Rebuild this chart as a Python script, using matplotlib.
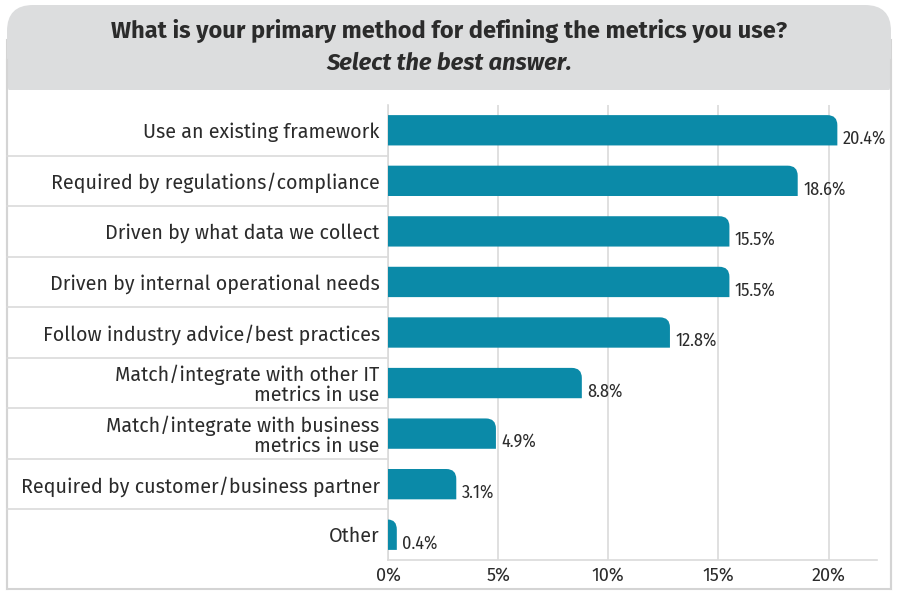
import numpy as np
import matplotlib
matplotlib.use("Agg")
import matplotlib.pyplot as plt
from matplotlib.path import Path
from matplotlib.patches import PathPatch, FancyBboxPatch, Rectangle
from matplotlib.transforms import blended_transform_factory

categories = [
    "Use an existing framework",
    "Required by regulations/compliance",
    "Driven by what data we collect",
    "Driven by internal operational needs",
    "Follow industry advice/best practices",
    "Match/integrate with other IT\nmetrics in use",
    "Match/integrate with business\nmetrics in use",
    "Required by customer/business partner",
    "Other",
]
shares = [20.4, 18.6, 15.5, 15.5, 12.8, 8.8, 4.9, 3.1, 0.4]
xticks = [0, 5, 10, 15, 20]

TITLE = "What is your primary method for defining the metrics you use?"
SUBTITLE = "Select the best answer."

BAR = "#0B8AA8"
TXT = "#2b2b2b"
GRID = "#dadada"
BAND = "#dcddde"

plt.rcParams["font.family"] = ["Fira Sans", "Open Sans", "DejaVu Sans"]
NARROW = ["Fira Sans Condensed", "Fira Sans Extra Condensed", "Roboto Condensed", "DejaVu Sans"]

W, H = 897, 592
fig = plt.figure(figsize=(W / 100, H / 100), dpi=100)

# frame + grey title band, drawn in pixel coords
bg = fig.add_axes([0, 0, 1, 1])
bg.set_xlim(0, W)
bg.set_ylim(H, 0)
bg.axis("off")
bg.add_patch(Rectangle((7, 40), 884, 549, facecolor="white", edgecolor="#d4d4d4", lw=1.5))
bg.add_patch(FancyBboxPatch((7, 5), 884, 100, boxstyle="round,pad=0,rounding_size=26",
                            facecolor=BAND, edgecolor="none"))
bg.add_patch(Rectangle((7, 90), 884, 30, facecolor="white", edgecolor="none"))
bg.plot([7, 7], [60, 589], color="#d4d4d4", lw=1.5)
bg.plot([891, 891], [60, 589], color="#d4d4d4", lw=1.5)
bg.text(449, 31, TITLE, ha="center", va="center", fontsize=17, fontweight="bold", color=TXT)
bg.text(449, 63, SUBTITLE, ha="center", va="center", fontsize=17, fontweight="bold",
        style="italic", color=TXT)

ax = fig.add_axes([388 / W, 1 - 560 / H, 489 / W, 455 / H])
n = len(categories)
ypos = np.arange(n)[::-1]
bars = ax.barh(ypos, shares, height=0.6, color=BAR)

# swap each rectangle for a path with a rounded top-right corner
rx_px, ry_px = 10, 10
for b in bars:
    x0, y0 = b.get_x(), b.get_y()
    w, h = b.get_width(), b.get_height()
    rx = min(rx_px / 22.0, w)
    ry = ry_px / 50.5
    x1, y1 = x0 + w, y0 + h
    verts = [(x0, y0), (x1, y0), (x1, y1 - ry), (x1, y1), (x1 - rx, y1), (x0, y1), (x0, y0)]
    codes = [Path.MOVETO, Path.LINETO, Path.LINETO, Path.CURVE3, Path.CURVE3,
             Path.LINETO, Path.CLOSEPOLY]
    b.set_visible(False)
    ax.add_patch(PathPatch(Path(verts, codes), facecolor=BAR, edgecolor="none", zorder=3))
    ax.annotate(f"{w:.1f}%", (x1, y0 + h / 2), xytext=(4, -6), textcoords="offset points",
                ha="left", va="center", fontsize=13, color=TXT, family=NARROW)

ax.set_xlim(0, 22.2)
ax.set_ylim(-0.5, n - 0.5)
ax.set_xticks(xticks)
ax.set_xticklabels([f"{t}%" for t in xticks], fontsize=13, color=TXT)
ax.set_yticks(ypos)
ax.set_yticklabels(categories, fontsize=14.2, color=TXT, linespacing=1.0)
ax.tick_params(length=0)
ax.tick_params(axis="y", pad=6)
ax.tick_params(axis="x", pad=5)
ax.grid(axis="x", color=GRID, lw=1.2, zorder=0)
ax.set_axisbelow(True)
for s in ["top", "right"]:
    ax.spines[s].set_visible(False)
for s in ["left", "bottom"]:
    ax.spines[s].set_color(GRID)
    ax.spines[s].set_linewidth(1.2)

# row separators running left into the label column
tr = blended_transform_factory(fig.transFigure, ax.transData)
for yb in np.arange(n - 1) + 0.5:
    ax.plot([7 / W, 388 / W], [yb, yb], transform=tr, color=GRID, lw=1.2, clip_on=False)

fig.savefig("out.png", dpi=100)
